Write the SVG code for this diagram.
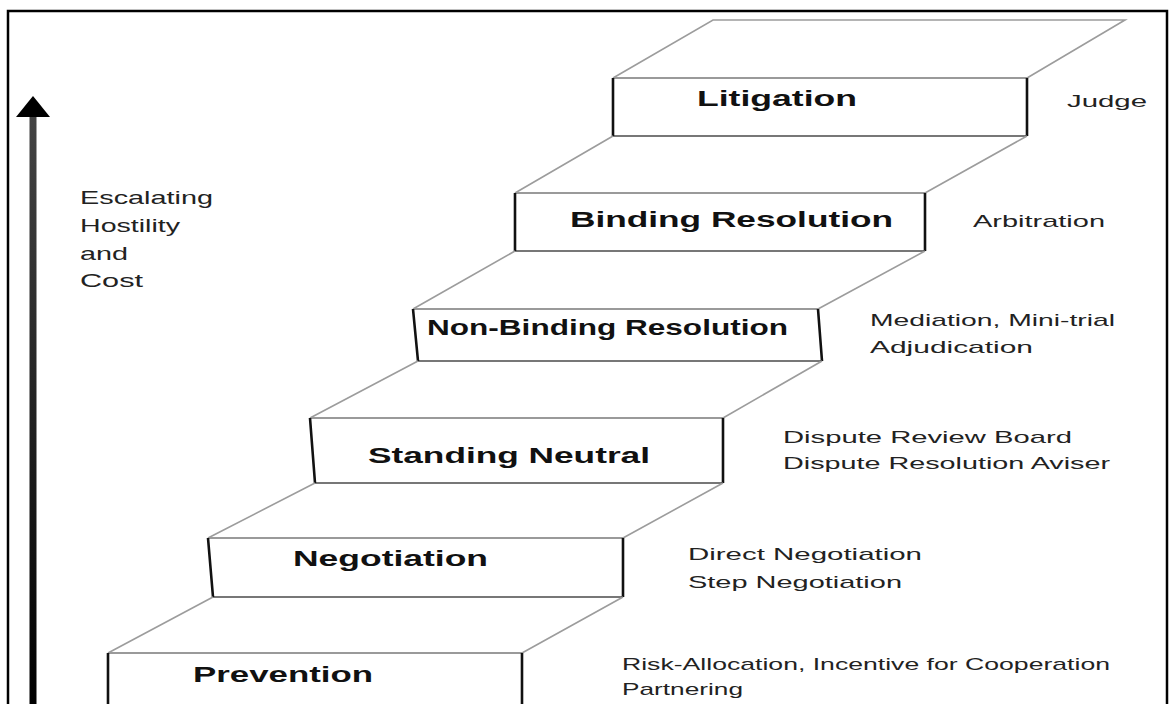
<svg xmlns="http://www.w3.org/2000/svg" width="1169" height="704" viewBox="0 0 1169 704">
<defs>
<linearGradient id="shaft" x1="0" y1="0" x2="0" y2="1">
<stop offset="0" stop-color="#444"/>
<stop offset="1" stop-color="#000"/>
</linearGradient>
</defs>
<style>
.frame{fill:none;stroke:#000;stroke-width:2.5}
.tread{fill:none;stroke:#9c9c9c;stroke-width:1.6}
.top{stroke:#9a9a9a;stroke-width:2;fill:none}
.bot{stroke:#777;stroke-width:2.2;fill:none}
.side{stroke:#111;stroke-width:2.6;fill:none}
.lbl{font-family:"Liberation Sans",Arial,sans-serif;font-weight:bold;font-size:22px;fill:#111}
.desc{font-family:"Liberation Sans",Arial,sans-serif;font-size:17px;fill:#222}
.axis{font-family:"Liberation Sans",Arial,sans-serif;font-size:19px;fill:#222}
</style>
<rect width="1169" height="704" fill="#fff"/>
<path class="frame" d="M8,704 V11 H1167 V704"/>

<g id="connectors">
<rect x="29.5" y="115" width="7" height="590" fill="url(#shaft)"/>
<polygon points="33,96 16,117 50,117" fill="#000"/>
</g>

<g id="axis-label">
<text class="axis" x="80" y="204" textLength="133" lengthAdjust="spacingAndGlyphs">Escalating</text>
<text class="axis" x="80" y="232" textLength="100" lengthAdjust="spacingAndGlyphs">Hostility</text>
<text class="axis" x="80" y="260" textLength="48" lengthAdjust="spacingAndGlyphs">and</text>
<text class="axis" x="80" y="287" textLength="63" lengthAdjust="spacingAndGlyphs">Cost</text>
</g>

<g id="litigation">
<path class="tread" d="M613,78 L713,20 H1125 L1027,78"/>
<path class="top" d="M613,78 H1027"/>
<path class="bot" d="M613,136 H1027"/>
<path class="side" d="M613,78 V136 M1027,78 V136"/>
<text class="lbl" x="697" y="106" textLength="160" lengthAdjust="spacingAndGlyphs">Litigation</text>
<text class="desc" x="1067" y="107" textLength="80" lengthAdjust="spacingAndGlyphs">Judge</text>
</g>

<g id="binding-resolution">
<path class="tread" d="M613,136 L515,193 M1027,136 L925,193"/>
<path class="top" d="M515,193 H925"/>
<path class="bot" d="M515,251 H925"/>
<path class="side" d="M515,193 V251 M925,193 V251"/>
<text class="lbl" x="570" y="227" textLength="323" lengthAdjust="spacingAndGlyphs">Binding Resolution</text>
<text class="desc" x="973" y="227" textLength="132" lengthAdjust="spacingAndGlyphs">Arbitration</text>
</g>

<g id="non-binding-resolution">
<path class="tread" d="M515,251 L413,309 M925,251 L818,309"/>
<path class="top" d="M413,309 H818"/>
<path class="bot" d="M418,361 H822"/>
<path class="side" d="M413,309 L418,361 M818,309 L822,361"/>
<text class="lbl" x="427" y="335" textLength="361" lengthAdjust="spacingAndGlyphs">Non-Binding Resolution</text>
<text class="desc" x="870" y="326" textLength="245" lengthAdjust="spacingAndGlyphs">Mediation, Mini-trial</text>
<text class="desc" x="870" y="353" textLength="163" lengthAdjust="spacingAndGlyphs">Adjudication</text>
</g>

<g id="standing-neutral">
<path class="tread" d="M418,361 L310,418 M822,361 L723,418"/>
<path class="top" d="M310,418 H723"/>
<path class="bot" d="M315,483 H723"/>
<path class="side" d="M310,418 L315,483 M723,418 V483"/>
<text class="lbl" x="368" y="463" textLength="282" lengthAdjust="spacingAndGlyphs">Standing Neutral</text>
<text class="desc" x="783" y="443" textLength="289" lengthAdjust="spacingAndGlyphs">Dispute Review Board</text>
<text class="desc" x="783" y="469" textLength="327" lengthAdjust="spacingAndGlyphs">Dispute Resolution Aviser</text>
</g>

<g id="negotiation">
<path class="tread" d="M315,483 L208,538 M723,483 L623,538"/>
<path class="top" d="M208,538 H623"/>
<path class="bot" d="M213,597 H623"/>
<path class="side" d="M208,538 L213,597 M623,538 V597"/>
<text class="lbl" x="293" y="566" textLength="195" lengthAdjust="spacingAndGlyphs">Negotiation</text>
<text class="desc" x="688" y="560" textLength="234" lengthAdjust="spacingAndGlyphs">Direct Negotiation</text>
<text class="desc" x="688" y="588" textLength="214" lengthAdjust="spacingAndGlyphs">Step Negotiation</text>
</g>

<g id="prevention">
<path class="tread" d="M213,597 L108,653 M623,597 L522,653"/>
<path class="top" d="M108,653 H522"/>
<path class="side" d="M108,653 V705 M522,653 V705"/>
<text class="lbl" x="193" y="682" textLength="180" lengthAdjust="spacingAndGlyphs">Prevention</text>
<text class="desc" x="622" y="670" textLength="488" lengthAdjust="spacingAndGlyphs">Risk-Allocation, Incentive for Cooperation</text>
<text class="desc" x="622" y="695" textLength="121" lengthAdjust="spacingAndGlyphs">Partnering</text>
</g>
</svg>
